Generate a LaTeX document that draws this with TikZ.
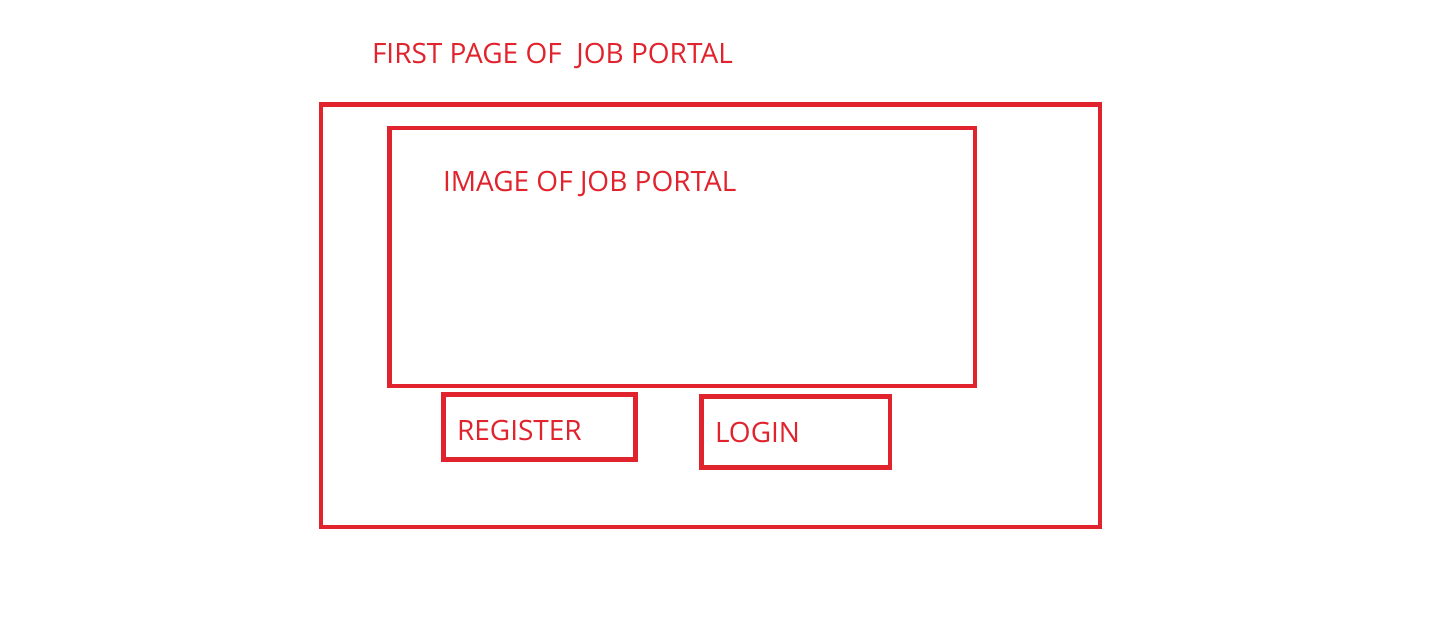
\documentclass[tikz,border=0pt]{standalone}
\usepackage{fontspec}
\setmainfont{Open Sans}
\begin{document}
\begin{tikzpicture}[x=1pt,y=-1pt,
  every node/.style={inner sep=0pt,outer sep=0pt},
  frame/.style={draw=portalred,line width=4.8pt,rectangle},
  label/.style={text=portalred,font=\fontsize{28}{32}\selectfont,anchor=base west}]
\definecolor{portalred}{RGB}{224,35,45}
\useasboundingbox[fill=white] (0,0) rectangle (1443,633);
% page frame and its parts
\node[frame,minimum width=779pt,minimum height=422.5pt] (page) at (710.5,315.75) {};
\node[frame,minimum width=585.3pt,minimum height=258pt] (image) at (682.35,257) {};
\node[frame,minimum width=192pt,minimum height=65pt] (register) at (539.5,427) {};
\node[frame,minimum width=188.5pt,minimum height=71pt] (login) at (795.75,432) {};
% captions
\node[label] (title) at (372,63) {FIRST PAGE OF\ \ JOB PORTAL};
\node[label] (imagetext) at (443,191) {IMAGE OF JOB PORTAL};
\node[label] (registertext) at (457,440) {REGISTER};
\node[label] (logintext) at (715,442) {LOGIN};
\end{tikzpicture}
\end{document}
